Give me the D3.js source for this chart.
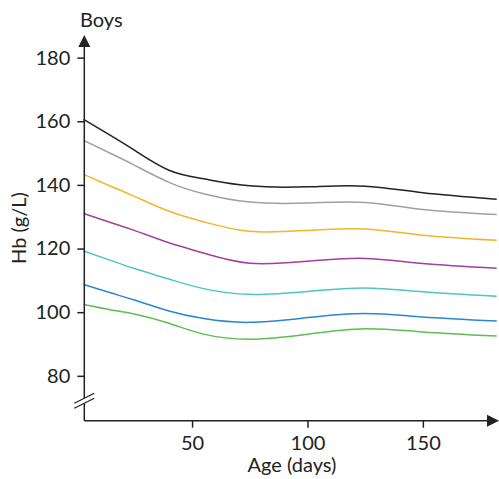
<!DOCTYPE html>
<html>
<head>
<meta charset="utf-8">
<script src="https://cdn.jsdelivr.net/npm/d3@7"></script>
<style>
    body { margin: 0; background: #fff; }
    text { font-family: Lato, "Open Sans", sans-serif; fill: #222; }
</style>
</head>
<body>
<svg id="hb-chart"></svg>
<script>
// 年龄（天）
var ageDays = [3, 15, 25, 40, 55, 75, 100, 125, 150, 182];
// 各百分位曲线 Hb (g/L)
var p97 = [160.6, 155.4, 150.9, 144.6, 141.9, 139.7, 139.4, 139.6, 137.5, 135.5];
var p90 = [154.0, 149.8, 146.2, 140.8, 137.2, 134.6, 134.3, 134.5, 132.3, 130.7];
var p75 = [143.3, 139.5, 136.4, 131.7, 128.4, 125.4, 125.7, 126.1, 124.2, 122.6];
var p50 = [131.0, 128.1, 125.7, 121.8, 118.6, 115.4, 116.0, 116.9, 115.3, 113.8];
var p25 = [119.2, 116.2, 113.7, 110.4, 107.4, 105.6, 106.5, 107.6, 106.4, 105.0];
var p10 = [108.7, 106.0, 103.8, 100.4, 98.0, 96.8, 98.3, 99.6, 98.5, 97.2];
var p3 = [102.4, 100.7, 99.4, 96.5, 93.1, 91.5, 93.1, 94.8, 93.8, 92.5];
var yTicks = [80, 100, 120, 140, 160, 180];
var xTicks = [50, 100, 150];

function drawHbChart(series, selector) {
    var svgWidth = 499,
        svgHeight = 479;
    var svg = d3.select(selector)
        .attr('width', svgWidth)
        .attr('height', svgHeight);

    var x = d3.scaleLinear().domain([3.3, 183]).range([84.3, 499]);
    var y = d3.scaleLinear().domain([65.9, 187.1]).range([420.7, 35]);
    var axisColor = '#222';
    var fontSize = '20px';

    // 曲线
    var line = d3.line()
        .x(function(d) { return x(d[0]); })
        .y(function(d) { return y(d[1]); })
        .curve(d3.curveNatural);
    svg.selectAll('.curve')
        .data(series)
        .enter()
        .append('path')
        .attr('class', 'curve')
        .attr('fill', 'none')
        .attr('stroke', function(d) { return d.color; })
        .attr('stroke-width', 1.5)
        .attr('d', function(d) {
            return line(ageDays.map(function(a, i) { return [a, d.values[i]]; }));
        });

    // x轴
    var xAxis = d3.axisBottom(x)
        .tickValues(xTicks)
        .tickSize(7)
        .tickSizeOuter(0)
        .tickPadding(8);
    var gx = svg.append('g')
        .attr('transform', 'translate(0,' + y(65.9) + ')')
        .call(xAxis);
    gx.select('.domain').attr('d', 'M' + x(3.3) + ',0H' + (svgWidth - 10));
    gx.selectAll('line, path').attr('stroke', axisColor).attr('stroke-width', 1.5);
    gx.selectAll('text').style('font-size', fontSize).attr('fill', axisColor);

    // y轴
    var yAxis = d3.axisLeft(y)
        .tickValues(yTicks)
        .tickSize(7)
        .tickSizeOuter(0)
        .tickPadding(7);
    var gy = svg.append('g')
        .attr('transform', 'translate(' + x(3.3) + ',0)')
        .call(yAxis);
    gy.select('.domain').attr('d', 'M0,' + y(65.9) + 'V' + (y(187.1) + 10));
    gy.selectAll('line, path').attr('stroke', axisColor).attr('stroke-width', 1.5);
    gy.selectAll('text').style('font-size', fontSize).attr('fill', axisColor);

    // 箭头
    var x0 = x(3.3), yb = y(65.9), yt = y(187.1);
    svg.append('path')
        .attr('d', 'M' + x0 + ',' + yt + 'L' + (x0 - 6) + ',' + (yt + 12) + 'L' + (x0 + 6) + ',' + (yt + 12) + 'Z')
        .attr('fill', axisColor);
    svg.append('path')
        .attr('d', 'M' + svgWidth + ',' + yb + 'L' + (svgWidth - 12) + ',' + (yb - 6) + 'L' + (svgWidth - 12) + ',' + (yb + 6) + 'Z')
        .attr('fill', axisColor);

    // 断轴标记
    var yBreak = y(72);
    svg.append('path')
        .attr('d', 'M' + (x0 - 10) + ',' + (yBreak + 2) + 'L' + (x0 + 10) + ',' + (yBreak - 8) +
            'L' + (x0 + 10) + ',' + (yBreak - 3) + 'L' + (x0 - 10) + ',' + (yBreak + 7) + 'Z')
        .attr('fill', '#fff');
    [0, 5].forEach(function(off) {
        svg.append('line')
            .attr('x1', x0 - 10).attr('y1', yBreak + 2 + off)
            .attr('x2', x0 + 10).attr('y2', yBreak - 8 + off)
            .attr('stroke', axisColor)
            .attr('stroke-width', 1.3);
    });

    // 标题与轴标题
    svg.append('text')
        .attr('x', 80)
        .attr('y', 27)
        .style('font-size', fontSize)
        .text('Boys');
    svg.append('text')
        .attr('transform', 'translate(26,' + 228 + ') rotate(-90)')
        .attr('text-anchor', 'middle')
        .style('font-size', fontSize)
        .text('Hb (g/L)');
    svg.append('text')
        .attr('x', 292)
        .attr('y', 472)
        .attr('text-anchor', 'middle')
        .style('font-size', fontSize)
        .text('Age (days)');
}

drawHbChart([
    {values: p97, color: '#222222'},
    {values: p90, color: '#a0a0a0'},
    {values: p75, color: '#f2b52c'},
    {values: p50, color: '#a23fa0'},
    {values: p25, color: '#4ec5c8'},
    {values: p10, color: '#2a86d3'},
    {values: p3, color: '#5dbd52'}
], '#hb-chart');
</script>
</body>
</html>
